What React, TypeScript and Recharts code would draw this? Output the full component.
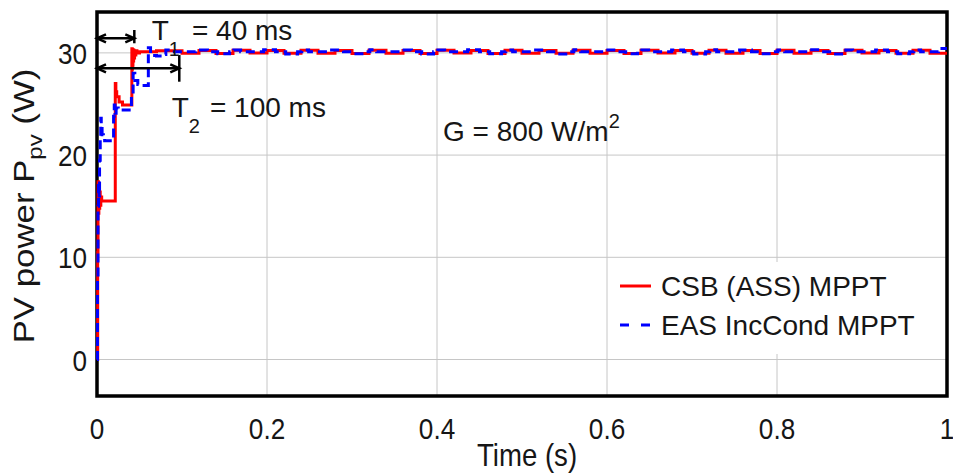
import React from "react";
import {
  LineChart,
  Line,
  XAxis,
  YAxis,
  CartesianGrid,
  ReferenceArea,
  ReferenceLine,
  ReferenceDot,
  Legend,
} from "recharts";

// ── Data (time in s, PV power in W) ───────────────────────────────────────────

const csbTime = [
  0, 0.0008, 0.0012, 0.0017, 0.0022, 0.0027, 0.0032, 0.0038, 0.0045, 0.0055,
  0.0215, 0.0222, 0.0232, 0.026, 0.03,
  0.041, 0.0413, 0.0416, 0.0419, 0.0423, 0.0427, 0.0431, 0.0436, 0.0442, 0.0449,
  0.0457, 0.047, 0.05, 0.07,
  0.1, 0.12, 0.14, 0.16, 0.18, 0.2, 0.22, 0.24, 0.26, 0.28, 0.3, 0.32, 0.34, 0.36,
  0.38, 0.4, 0.42, 0.44, 0.46, 0.48, 0.5, 0.52, 0.54, 0.56, 0.58, 0.6, 0.62, 0.64,
  0.66, 0.68, 0.7, 0.72, 0.74, 0.76, 0.78, 0.8, 0.82, 0.84, 0.86, 0.88, 0.9, 0.92,
  0.94, 0.96, 0.98, 1.0,
];
const csbPower = [
  0, 10.5, 17.4, 14.3, 16.9, 14.8, 16.4, 15.1, 15.9, 15.5,
  27.0, 26.2, 25.7, 25.2, 24.9,
  30.4, 28.4, 30.35, 28.8, 30.3, 29.2, 30.25, 29.5, 30.2, 29.8,
  30.2, 30.0, 30.12, 30.2,
  29.97, 30.24, 29.95, 30.25, 29.98, 30.23, 29.96, 30.25, 29.97, 30.24, 29.95, 30.25, 29.97, 30.23,
  29.95, 30.25, 29.98, 30.24, 29.95, 30.25, 29.97, 30.23, 29.96, 30.25, 29.97, 30.24, 29.95, 30.25,
  29.98, 30.23, 29.96, 30.25, 29.97, 30.24, 29.95, 30.25, 29.97, 30.23, 29.95, 30.25, 29.98, 30.24,
  29.96, 30.25, 29.97, 29.97,
];

const easTime = [
  0, 0.0006, 0.0012, 0.0018, 0.0024, 0.003, 0.0038, 0.0044, 0.005, 0.006, 0.0075, 0.009,
  0.0195, 0.0203, 0.0212, 0.0225, 0.025,
  0.0405, 0.0425, 0.0445, 0.048, 0.052,
  0.0604, 0.063, 0.07, 0.078, 0.081, 0.089, 0.116, 0.13,
  0.142, 0.156, 0.161, 0.169, 0.196, 0.21,
  0.222, 0.236, 0.241, 0.249, 0.276, 0.29,
  0.302, 0.316, 0.321, 0.329, 0.356, 0.37,
  0.382, 0.396, 0.401, 0.409, 0.436, 0.45,
  0.462, 0.476, 0.481, 0.489, 0.516, 0.53,
  0.542, 0.556, 0.561, 0.569, 0.596, 0.61,
  0.622, 0.636, 0.641, 0.649, 0.676, 0.69,
  0.702, 0.716, 0.721, 0.729, 0.756, 0.77,
  0.782, 0.796, 0.801, 0.809, 0.836, 0.85,
  0.862, 0.876, 0.881, 0.889, 0.916, 0.93,
  0.942, 0.956, 0.961, 0.969, 0.99, 1.0,
];
const easPower = [
  0, 8, 15, 17.2, 16.0, 19.5, 21.8, 23.6, 22.6, 22.0, 21.6, 21.4,
  23.8, 24.9, 24.1, 24.6, 24.4,
  26.0, 28.0, 27.3, 26.9, 26.8,
  30.5, 29.75, 29.7, 29.85, 30.28, 30.1, 30.28, 30.1,
  29.92, 30.1, 30.28, 30.1, 30.3, 30.1,
  29.9, 30.12, 30.28, 30.1, 30.28, 30.1,
  29.92, 30.1, 30.3, 30.1, 30.28, 30.12,
  29.9, 30.1, 30.28, 30.1, 30.3, 30.1,
  29.92, 30.1, 30.28, 30.12, 30.28, 30.1,
  29.9, 30.1, 30.3, 30.1, 30.28, 30.1,
  29.92, 30.12, 30.28, 30.1, 30.28, 30.1,
  29.9, 30.1, 30.3, 30.1, 30.28, 30.12,
  29.92, 30.1, 30.28, 30.1, 30.3, 30.1,
  29.9, 30.1, 30.28, 30.12, 30.28, 30.1,
  29.92, 30.1, 30.28, 30.1, 30.42, 30.42,
];

const xTicks = [0, 0.2, 0.4, 0.6, 0.8, 1];
const yTicks = [0, 10, 20, 30];
const Y_MIN = -3.57;
const Y_MAX = 34;

const csbData = csbTime.map((t, i) => ({ t, p: csbPower[i] }));
const easData = easTime.map((t, i) => ({ t, p: easPower[i] }));

// ── Styles ────────────────────────────────────────────────────────────────────

const FONT = "'Liberation Sans', Arial, Helvetica, sans-serif";
const INK = "#161616";
const RED = "#ff0000";
const BLUE = "#0000ff";

// condensed tick labels, like the exported figure
const XTick = (props: any) => {
  const { x, y, payload } = props;
  return (
    <text
      transform={`translate(${x}, ${y + 21}) scale(0.87, 1)`}
      textAnchor="middle"
      fontFamily={FONT}
      fontSize={30}
      fill={INK}
    >
      {String(payload.value)}
    </text>
  );
};

const YTick = (props: any) => {
  const { x, y, payload } = props;
  return (
    <text
      transform={`translate(${x}, ${y + 11}) scale(0.87, 1)`}
      textAnchor="end"
      fontFamily={FONT}
      fontSize={30}
      fill={INK}
    >
      {String(payload.value)}
    </text>
  );
};

// ── Annotation shapes ─────────────────────────────────────────────────────────

const DoubleArrow = (props: any) => {
  const { x1, y1, x2, y2 } = props;
  const h = 9;
  const w = 4;
  return (
    <g stroke="#000" strokeWidth={2.5} fill="none">
      <line x1={x1} y1={y1} x2={x2} y2={y2} />
      <polyline points={`${x1 + h},${y1 - w} ${x1},${y1} ${x1 + h},${y1 + w}`} />
      <polyline points={`${x2 - h},${y2 - w} ${x2},${y2} ${x2 - h},${y2 + w}`} />
    </g>
  );
};

const Bar = (props: any) => {
  const { x1, y1, x2, y2 } = props;
  return <line x1={x1} y1={y1} x2={x2} y2={y2} stroke="#000" strokeWidth={2.5} />;
};

const subText = (main: string, sub: string, rest: string, gap: number) => (p: any) => (
  <text x={p.cx} y={p.cy} fontFamily={FONT} fontSize={28} fill={INK}>
    <tspan>{main}</tspan>
    <tspan fontSize={20} dy={16}>{sub}</tspan>
    <tspan dy={-16} dx={gap}>{rest}</tspan>
  </text>
);

const GText = (p: any) => (
  <text x={p.cx} y={p.cy} fontFamily={FONT} fontSize={28} fill={INK}>
    <tspan>G = 800 W/m</tspan>
    <tspan fontSize={20} dy={-13}>2</tspan>
  </text>
);

const XLabel = (props: any) => {
  const { viewBox } = props;
  return (
    <text
      transform={`translate(${viewBox.x + viewBox.width / 2 + 5}, 466) scale(0.92, 1.05)`}
      textAnchor="middle"
      fontFamily={FONT}
      fontSize={30}
      fill={INK}
    >
      Time (s)
    </text>
  );
};

const YLabel = (props: any) => {
  const { viewBox } = props;
  const cy = viewBox.y + viewBox.height / 2 + 2;
  return (
    <text
      transform={`translate(34, ${cy}) rotate(-90) scale(1.2, 1)`}
      textAnchor="middle"
      fontFamily={FONT}
      fontSize={29}
      fill={INK}
    >
      <tspan>PV power P</tspan>
      <tspan fontSize={20} dy={8}>pv</tspan>
      <tspan dy={-8}> (W)</tspan>
    </text>
  );
};

const LegendBox = () => (
  <svg width={330} height={92} style={{ display: "block", background: "#fff" }}>
    <line x1={11} y1={24} x2={42} y2={24} stroke={RED} strokeWidth={3} />
    <text x={52} y={34} fontFamily={FONT} fontSize={28} fill={INK}>
      CSB (ASS) MPPT
    </text>
    <line x1={11} y1={63} x2={42} y2={63} stroke={BLUE} strokeWidth={3} strokeDasharray="9 12" />
    <text x={52} y={73} fontFamily={FONT} fontSize={28} fill={INK}>
      EAS IncCond MPPT
    </text>
  </svg>
);

// ── Chart ─────────────────────────────────────────────────────────────────────

export default function App() {
  return (
    <div style={{ position: "absolute", left: 0, top: 0, background: "#fff" }}>
      <LineChart width={953} height={474} margin={{ top: 12, right: 6, bottom: 0, left: 0 }}>
        <CartesianGrid stroke="#c6c6c6" strokeWidth={1} />
        <XAxis
          dataKey="t"
          type="number"
          domain={[0, 1]}
          ticks={xTicks}
          height={78}
          axisLine={false}
          tickLine={false}
          tickSize={0}
          tickMargin={22}
          tick={XTick}
          label={{ content: XLabel }}
        />
        <YAxis
          type="number"
          domain={[Y_MIN, Y_MAX]}
          ticks={yTicks}
          width={97}
          axisLine={false}
          tickLine={false}
          tickSize={0}
          tickMargin={10}
          tick={YTick}
          label={{ content: YLabel }}
        />
        <Legend
          layout="horizontal"
          verticalAlign="middle"
          align="center"
          content={LegendBox}
          wrapperStyle={{ position: "absolute", left: 609, top: 262, width: 330, height: 92 }}
        />
        <Line
          data={csbData}
          dataKey="p"
          type="stepAfter"
          stroke={RED}
          strokeWidth={3}
          dot={false}
          isAnimationActive={false}
        />
        <Line
          data={easData}
          dataKey="p"
          type="stepAfter"
          stroke={BLUE}
          strokeWidth={3}
          strokeDasharray="9 5"
          dot={false}
          isAnimationActive={false}
        />
        <ReferenceLine segment={[{ x: 0, y: 31.43 }, { x: 0.0439, y: 31.43 }]} shape={DoubleArrow} />
        <ReferenceLine segment={[{ x: 0.0439, y: 32.24 }, { x: 0.0439, y: 30.94 }]} shape={Bar} />
        <ReferenceLine segment={[{ x: 0, y: 28.49 }, { x: 0.0968, y: 28.49 }]} shape={DoubleArrow} />
        <ReferenceLine segment={[{ x: 0.0968, y: 29.79 }, { x: 0.0968, y: 27.18 }]} shape={Bar} />
        <ReferenceDot x={0.0644} y={31.26} r={0} shape={subText("T", "1", "= 40 ms", 12)} />
        <ReferenceDot x={0.0879} y={23.76} r={0} shape={subText("T", "2", "= 100 ms", 10)} />
        <ReferenceDot x={0.407} y={21.38} r={0} shape={GText} />
        <ReferenceArea x1={0} x2={1} y1={Y_MIN} y2={Y_MAX} fill="none" stroke="#000" strokeWidth={3.5} />
      </LineChart>
    </div>
  );
}
